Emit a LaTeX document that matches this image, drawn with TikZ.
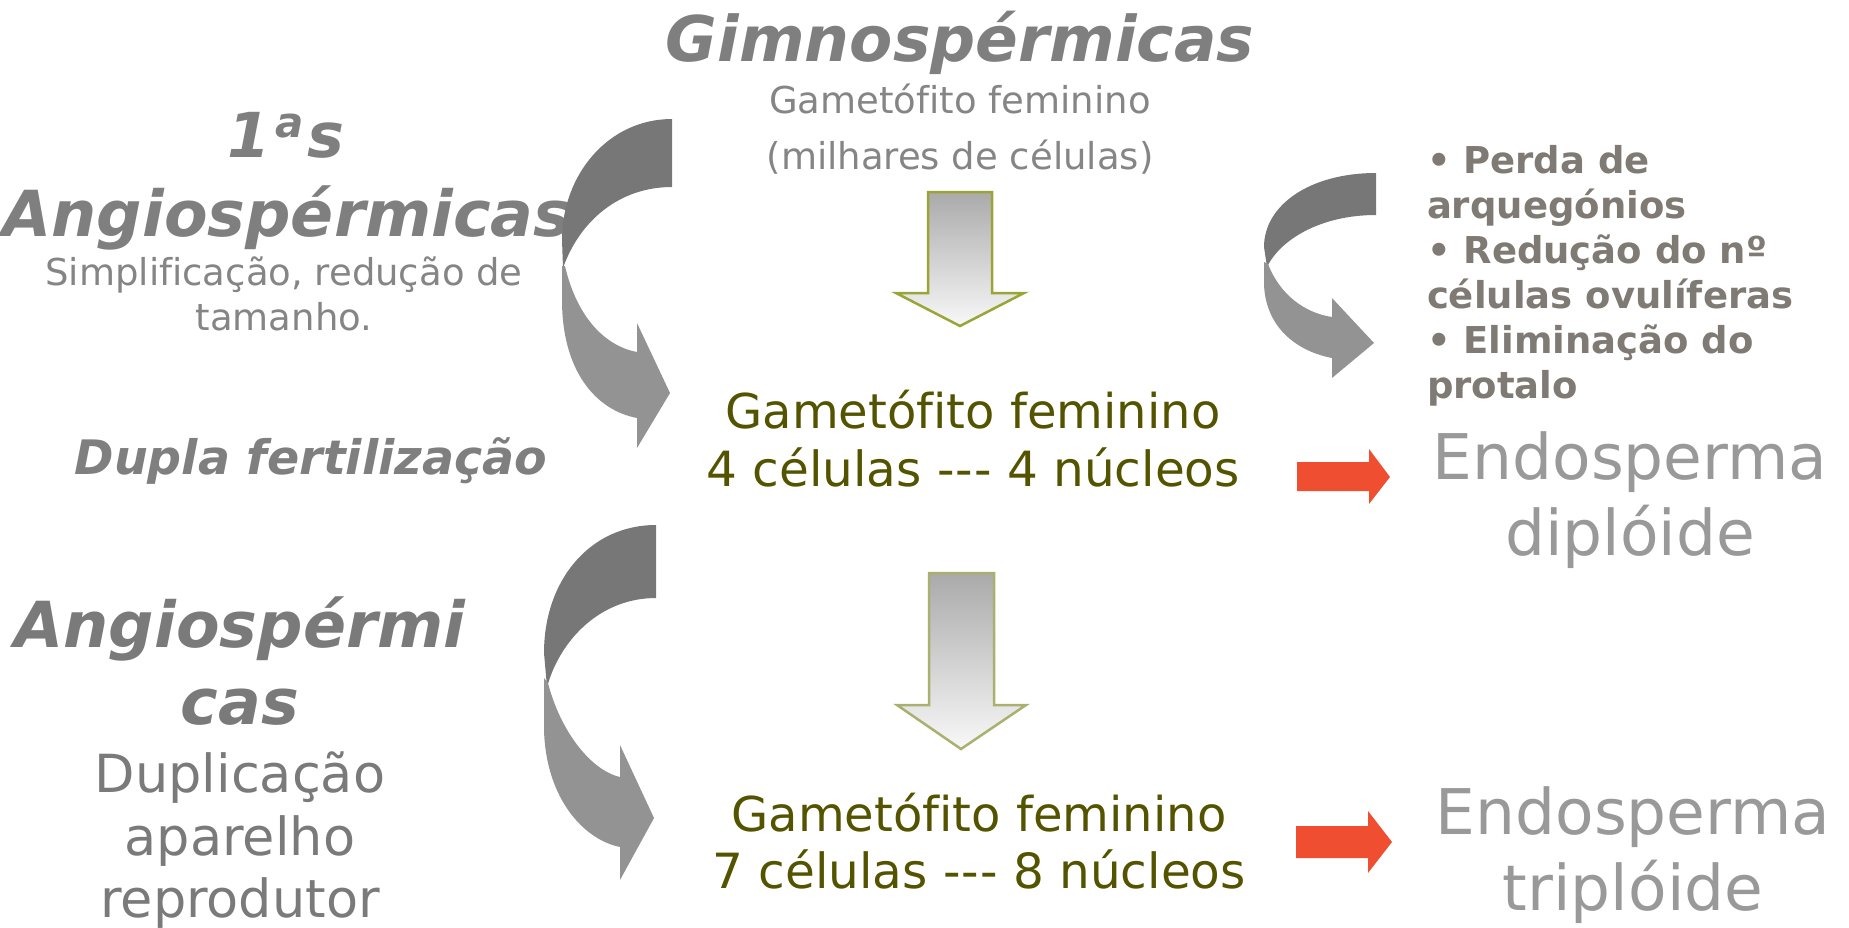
\documentclass[tikz,border=0pt]{standalone}
\usepackage{fontspec}
\newfontfamily\dv{DejaVu Sans}[ItalicFont={DejaVu Sans Oblique},BoldFont={DejaVu Sans Bold},BoldItalicFont={DejaVu Sans Bold Oblique},Ligatures=NoCommon]
\newcommand\fsz[1]{\fontsize{#1}{#1}\selectfont}
\definecolor{titlegray}{RGB}{127,127,127}
\definecolor{subgray}{RGB}{133,133,133}
\definecolor{dupgray}{RGB}{122,122,122}
\definecolor{endogray}{RGB}{153,153,153}
\definecolor{bulgray}{RGB}{127,122,115}
\definecolor{olivetxt}{RGB}{83,83,0}
\definecolor{arrdark}{RGB}{119,119,119}
\definecolor{arrlight}{RGB}{147,147,147}
\definecolor{blockoutA}{RGB}{155,165,55}
\definecolor{blockoutB}{RGB}{170,176,110}
\definecolor{redarr}{RGB}{240,78,48}
\definecolor{gradtop}{RGB}{170,170,170}
\definecolor{gradbot}{RGB}{248,248,248}
\begin{document}
\begin{tikzpicture}[x=1pt,y=-1pt,
  txt/.style={inner sep=0pt, outer sep=0pt, anchor=base, font=\dv},
  btitle/.style={txt, text=titlegray, font=\dv\bfseries\itshape},
  lefttxt/.style={txt, anchor=base west},
  darkpart/.style={fill=arrdark, draw=none},
  lightpart/.style={fill=arrlight, draw=none},
  blockarrow/.style={line width=2.5pt, line join=miter, top color=gradtop, bottom color=gradbot},
  redarrow/.style={fill=redarr, draw=none}]
\useasboundingbox (0,0) rectangle (1849,927);

% ---- texts top centre
\node[btitle, font=\dv\bfseries\itshape\fsz{63}] (gimno) at (960,61) {Gimnospérmicas};
\node[txt, text=subgray, font=\dv\fsz{37}] (gtopA) at (960,113) {Gametófito feminino};
\node[txt, text=subgray, font=\dv\fsz{37}] (gtopB) at (960,169) {(milhares de células)};

% ---- left top
\node[btitle, font=\dv\bfseries\itshape\fsz{62}] (prim) at (286,157) {1\kern5pt\raisebox{20pt}{\fsz{42}a}\kern3pt s};
\node[btitle, font=\dv\bfseries\itshape\fsz{63.5}] (angA) at (287,236) {Angiospérmicas};
\node[txt, text=subgray, font=\dv\fsz{37}] (simpA) at (284,285) {Simplificação, redução de};
\node[txt, text=subgray, font=\dv\fsz{37}] (simpB) at (284,330) {tamanho.};
\node[btitle, font=\dv\bfseries\itshape\fsz{47.5}] (dupla) at (311,474) {Dupla fertilização};

% ---- left bottom
\node[btitle, text=dupgray, font=\dv\bfseries\itshape\fsz{63.5}] (angB1) at (240,647) {Angiospérmi};
\node[btitle, text=dupgray, font=\dv\bfseries\itshape\fsz{63.5}] (angB2) at (240,724) {cas};
\node[txt, text=dupgray, font=\dv\fsz{52.5}] (dupA) at (240,792) {Duplicação};
\node[txt, text=dupgray, font=\dv\fsz{52.5}] (dupB) at (240,855) {aparelho};
\node[txt, text=dupgray, font=\dv\fsz{52.5}] (dupC) at (240,917) {reprodutor};

% ---- centre olive texts
\node[txt, text=olivetxt, font=\dv\fsz{48}] (oliveA1) at (973,428) {Gametófito feminino};
\node[txt, text=olivetxt, font=\dv\fsz{48.5}] (oliveA2) at (973,486) {4 células -\kern1pt-\kern1pt- 4 núcleos};
\node[txt, text=olivetxt, font=\dv\fsz{48}] (oliveB1) at (979,831) {Gametófito feminino};
\node[txt, text=olivetxt, font=\dv\fsz{48.5}] (oliveB2) at (979,888) {7 células -\kern1pt-\kern1pt- 8 núcleos};

% ---- right texts
\node[txt, text=endogray, font=\dv\fsz{63}] (endoA1) at (1630,479) {Endosperma};
\node[txt, text=endogray, font=\dv\fsz{63}] (endoA2) at (1630,555) {diplóide};
\node[txt, text=endogray, font=\dv\fsz{63}] (endoB1) at (1633,834) {Endosperma};
\node[txt, text=endogray, font=\dv\fsz{63}] (endoB2) at (1633,910) {triplóide};

\node[lefttxt, text=bulgray, font=\dv\bfseries\fsz{37}] (bulA) at (1427,173) {• Perda de};
\node[lefttxt, text=bulgray, font=\dv\bfseries\fsz{37}] (bulB) at (1427,218) {arquegónios};
\node[lefttxt, text=bulgray, font=\dv\bfseries\fsz{37}] (bulC) at (1427,263) {• Redução do nº};
\node[lefttxt, text=bulgray, font=\dv\bfseries\fsz{37}] (bulD) at (1427,308) {células ovulíferas};
\node[lefttxt, text=bulgray, font=\dv\bfseries\fsz{37}] (bulE) at (1427,353) {• Eliminação do};
\node[lefttxt, text=bulgray, font=\dv\bfseries\fsz{37}] (bulF) at (1427,398) {protalo};

% ---- curved arrow 1 (left top)
\fill[darkpart] (672,119) .. controls (608,119) and (562,175) .. (562,240) -- (563,268)
  .. controls (580,220) and (620,187) .. (672,187) -- cycle;
\fill[lightpart] (562,266) -- (562,300) .. controls (562,370) and (595,410) .. (637,418)
  -- (637,448) -- (670,393) -- (637,323) -- (637,352)
  .. controls (600,345) and (575,310) .. (565,266) -- cycle;

% ---- curved arrow 2 (left bottom)
\fill[darkpart] (656,525) .. controls (590,525) and (544,580) .. (544,653) -- (547,687)
  .. controls (560,640) and (600,598) .. (656,598) -- cycle;
\fill[lightpart] (544,678) -- (544,730) .. controls (546,800) and (585,840) .. (620,847)
  -- (620,880) -- (654,818) -- (620,745) -- (620,777)
  .. controls (590,770) and (560,730) .. (548,683) -- cycle;

% ---- curved arrow 3 (right)
\fill[darkpart] (1376,173) .. controls (1310,173) and (1264,205) .. (1264,247) -- (1267,267)
  .. controls (1280,240) and (1320,215) .. (1376,215) -- cycle;
\fill[lightpart] (1264,262) -- (1264,285) .. controls (1266,330) and (1300,352) .. (1332,358)
  -- (1332,378) -- (1374,343) -- (1332,298) -- (1332,317)
  .. controls (1305,313) and (1280,295) .. (1268,264) -- cycle;

% ---- block arrows
\path[blockarrow, draw=blockoutA] (928,192) -- (992,192) -- (992,293) -- (1024,293) -- (960,326)
  -- (896,293) -- (928,293) -- cycle;
\path[blockarrow, draw=blockoutB] (929,573) -- (994,573) -- (994,705) -- (1026,705) -- (961,749)
  -- (897,705) -- (929,705) -- cycle;

% ---- red arrows
\fill[redarrow] (1297,462) -- (1369,462) -- (1369,449) -- (1390,477) -- (1369,504) -- (1369,491)
  -- (1297,491) -- cycle;
\fill[redarrow] (1296,826) -- (1368,826) -- (1368,811) -- (1392,842) -- (1368,873) -- (1368,858)
  -- (1296,858) -- cycle;
\end{tikzpicture}
\end{document}
